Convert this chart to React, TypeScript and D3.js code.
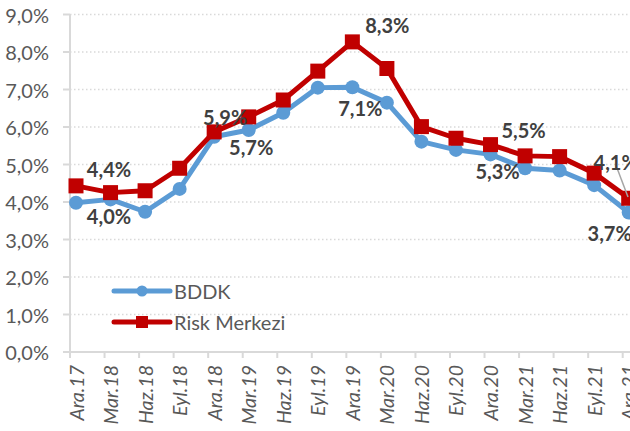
import React from 'react';
import * as d3 from 'd3';

const categories = ['Ara.17', 'Mar.18', 'Haz.18', 'Eyl.18', 'Ara.18', 'Mar.19', 'Haz.19', 'Eyl.19', 'Ara.19',
    'Mar.20', 'Haz.20', 'Eyl.20', 'Ara.20', 'Mar.21', 'Haz.21', 'Eyl.21', 'Ara.21'];
const bddk = [3.98, 4.07, 3.74, 4.35, 5.74, 5.92, 6.38, 7.05, 7.06, 6.65, 5.61, 5.39, 5.27, 4.90, 4.84, 4.45, 3.72];
const riskMerkezi = [4.43, 4.25, 4.30, 4.90, 5.87, 6.27, 6.72, 7.49, 8.27, 7.56, 6.01, 5.70, 5.53, 5.23, 5.21, 4.77, 4.10];
const yTicks = [0, 1, 2, 3, 4, 5, 6, 7, 8, 9];
// labelled points (December values), [dx, dy] of the label from its point
const labelled = ['Ara.17', 'Ara.18', 'Ara.19', 'Ara.20', 'Ara.21'];
const redLabelPos = [[33, -17], [11, -15], [35, -17], [33, -15], [-13, -36]];
const blueLabelPos = [[33, 13], [37, 10], [8, 21], [7, 17], [-19, 20]];

const W = 630, H = 431;
const font = 'Lato, "Open Sans", sans-serif';
const blue = '#5B9BD5', red = '#C00000';

const fmt = (v: number) => v.toFixed(1).replace('.', ',') + '%';

export default function App() {
    const x = d3.scalePoint<string>().domain(categories).range([76, 628.7]);
    const tickShift = -6;
    const y = d3.scaleLinear().domain([0, 9]).range([352, 14.5]);
    const line = d3.line<number>().x((d, i) => x(categories[i])!).y(d => y(d));

    return (
        <svg width={W} height={H} style={{ position: 'absolute', left: 0, top: 0, background: '#fff' }}
             fontFamily={font}>
            {/* grid */}
            {yTicks.slice(1).map(t => (
                <line key={t} x1={70} x2={W} y1={y(t)} y2={y(t)} stroke="#d9d9d9" strokeWidth={1.3} strokeDasharray="1.5,2.5" />
            ))}
            {yTicks.map(t => (
                <g key={'yt' + t}>
                    <line x1={63} x2={70} y1={y(t)} y2={y(t)} stroke="#d9d9d9" strokeWidth={2} />
                    <text x={49} y={y(t)} textAnchor="end" dominantBaseline="central" fontSize={20} fill="#595959">{fmt(t)}</text>
                </g>
            ))}
            <line x1={70} x2={70} y1={y(9)} y2={y(0)} stroke="#d9d9d9" strokeWidth={2} />
            <line x1={70} x2={W} y1={y(0)} y2={y(0)} stroke="#d9d9d9" strokeWidth={2} />
            {categories.map(c => (
                <g key={c}>
                    <line x1={x(c)! + tickShift} x2={x(c)! + tickShift} y1={y(0)} y2={y(0) + 6} stroke="#d9d9d9" strokeWidth={2} />
                    <text transform={`translate(${x(c)},365) rotate(-90)`} textAnchor="end" dominantBaseline="central"
                          fontSize={19.5} fontStyle="italic" fill="#595959">{c}</text>
                </g>
            ))}

            {/* series */}
            <path d={line(bddk)!} fill="none" stroke={blue} strokeWidth={5} strokeLinejoin="round" />
            {bddk.map((v, i) => <circle key={'b' + i} cx={x(categories[i])} cy={y(v)} r={7} fill={blue} />)}
            <path d={line(riskMerkezi)!} fill="none" stroke={red} strokeWidth={5} strokeLinejoin="round" />
            {riskMerkezi.map((v, i) => (
                <rect key={'r' + i} x={x(categories[i])! - 7.5} y={y(v) - 7.5} width={15} height={15} fill={red} />
            ))}

            {/* data labels */}
            <line x1={617} y1={168} x2={628} y2={197} stroke="#a6a6a6" strokeWidth={1.5} />
            {labelled.map((c, k) => {
                const i = categories.indexOf(c);
                const [rdx, rdy] = redLabelPos[k];
                const [bdx, bdy] = blueLabelPos[k];
                return (
                    <g key={'l' + c} fontSize={20} fontWeight="bold" fill="#404040" textAnchor="middle" dominantBaseline="central">
                        <text x={x(c)! + rdx} y={y(riskMerkezi[i]) + rdy}>{fmt(riskMerkezi[i])}</text>
                        <text x={x(c)! + bdx} y={y(bddk[i]) + bdy}>{fmt(bddk[i])}</text>
                    </g>
                );
            })}

            {/* legend */}
            <g>
                <line x1={114} x2={170} y1={291} y2={291} stroke={blue} strokeWidth={5} strokeLinecap="round" />
                <circle cx={142} cy={291} r={5.5} fill={blue} />
                <text x={174} y={291} dominantBaseline="central" fontSize={20} fill="#595959">BDDK</text>
                <line x1={114} x2={170} y1={322} y2={322} stroke={red} strokeWidth={5} strokeLinecap="round" />
                <rect x={136} y={316} width={12} height={12} fill={red} />
                <text x={174} y={322} dominantBaseline="central" fontSize={20} fill="#595959">Risk Merkezi</text>
            </g>
        </svg>
    );
}
